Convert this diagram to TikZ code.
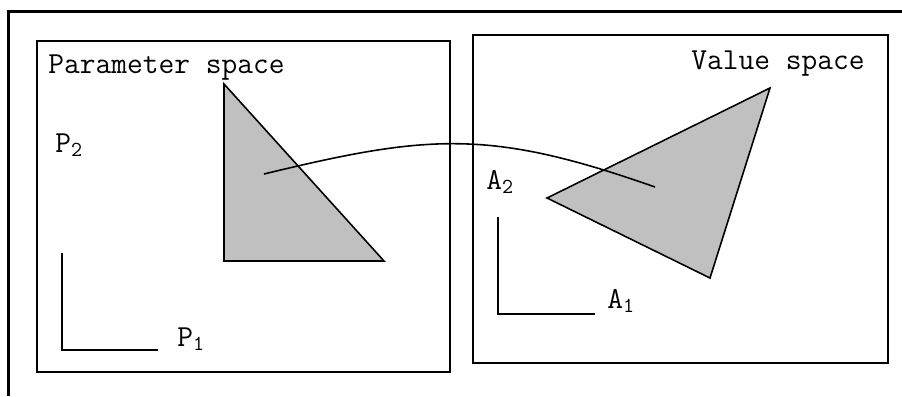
\documentclass[tikz,border=0pt]{standalone}
\usepackage{fontspec}
\usepackage{xcolor}
\definecolor{regiongray}{RGB}{192,192,192}

\begin{document}
\begin{tikzpicture}[x=0.02cm, y=-0.02cm]
  \tikzset{
    frame/.style={
      line width=1.9pt
    },
    spacebox/.style={
      draw,
      line width=0.9pt
    },
    region/.style={
      draw,
      line width=0.9pt,
      fill=regiongray,
      line join=miter
    },
    axis/.style={
      line width=0.9pt
    },
    label/.style={
      font=\ttfamily\fontsize{17.4}{20}\selectfont,
      anchor=base west,
      inner sep=0pt
    }
  }
  \useasboundingbox (0,0) rectangle (902,396);

  % Outer frame (only left and top edges show)
  \draw[frame] (8.5,396) -- (8.5,11.5) -- (902,11.5);

  % The two spaces
  \draw[spacebox] (37,41) rectangle (450,372);
  \draw[spacebox] (473,35) rectangle (888,363);

  \node[label] at (48,73) (paramlabel) {Parameter space};
  \node[label] at (691,69) (valuelabel) {Value space};

  % Parameter axes
  \draw[axis] (62,253) -- (62,350) -- (158,350);
  \node[label] at (55,152) (ptwo) {P\textsubscript{2}};
  \node[label] at (177,346) (pone) {P\textsubscript{1}};

  % Value axes
  \draw[axis] (498,217) -- (498,314) -- (595,314);
  \node[label] at (486,189) (atwo) {A\textsubscript{2}};
  \node[label] at (607,308) (aone) {A\textsubscript{1}};

  % Triangles
  \draw[region] (224,84) -- (224,261) -- (384,261) -- cycle;
  \draw[region] (547,198) -- (770,88) -- (710,278) -- cycle;

  % Mapping curve
  \coordinate (src) at (264,174);
  \coordinate (dst) at (655,187);
  \draw[axis] (src) .. controls (429,134) and (490,129) .. (dst);

\end{tikzpicture}
\end{document}
